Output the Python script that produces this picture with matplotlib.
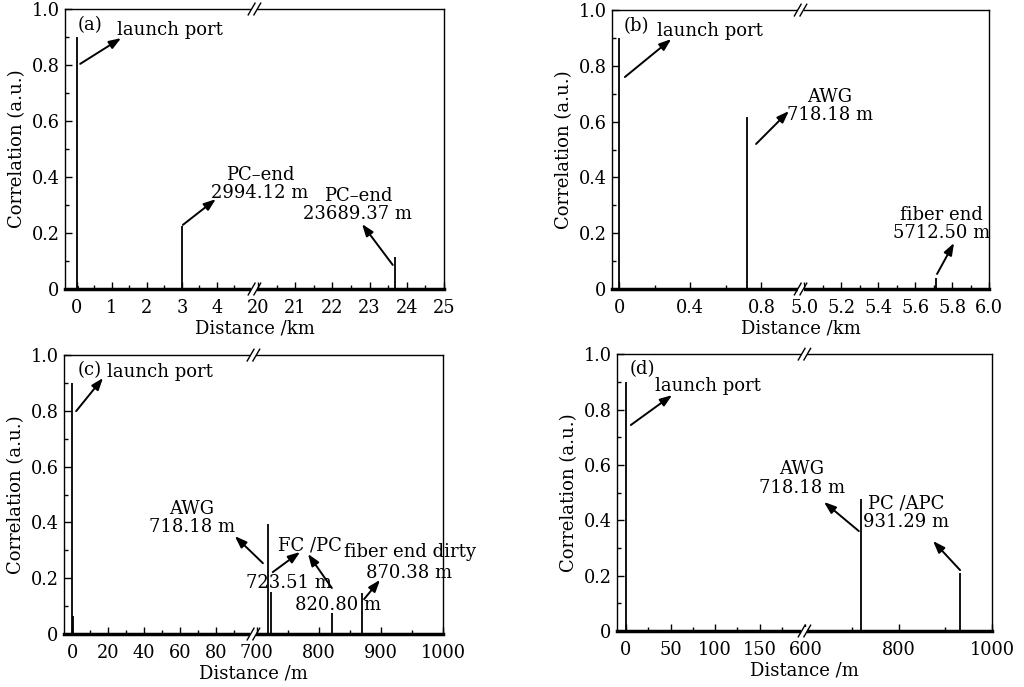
import numpy as np
import matplotlib
matplotlib.use("Agg")
import matplotlib.pyplot as plt
from matplotlib.ticker import FixedLocator, FixedFormatter
from matplotlib.patches import Rectangle

plt.rcParams['font.family'] = ['DejaVu Serif']
plt.rcParams['mathtext.fontset'] = 'dejavuserif'

# ---------------- data ----------------
# (a) distance in km
a_pos = [0.0, 0.03, 2.99412, 23.68937]
a_val = [0.90, 0.012, 0.225, 0.115]
a_major = [0, 1, 2, 3, 4, 20, 21, 22, 23, 24, 25]
a_major_lbl = ["0", "1", "2", "3", "4", "20", "21", "22", "23", "24", "25"]
a_minor = [0.5, 1.5, 2.5, 3.5, 4.5, 20.5, 21.5, 22.5, 23.5, 24.5]

# (b) distance in km
b_pos = [0.0, 0.71818, 5.7125]
b_val = [0.90, 0.615, 0.04]
b_major = [0, 0.4, 0.8, 5.0, 5.2, 5.4, 5.6, 5.8, 6.0]
b_major_lbl = ["0", "0.4", "0.8", "5.0", "5.2", "5.4", "5.6", "5.8", "6.0"]
b_minor = [0.2, 0.6, 5.1, 5.3, 5.5, 5.7, 5.9]

# (c) distance in m
c_pos = [0.0, 0.5, 718.18, 723.51, 820.80, 870.38]
c_val = [0.90, 0.065, 0.395, 0.152, 0.074, 0.146]
c_major = [0, 20, 40, 60, 80, 700, 800, 900, 1000]
c_major_lbl = ["0", "20", "40", "60", "80", "700", "800", "900", "1000"]
c_minor = [10, 30, 50, 70, 90, 750, 850, 950]

# (d) distance in m
d_pos = [0.0, 718.18, 931.29]
d_val = [0.90, 0.476, 0.21]
d_major = [0, 50, 100, 150, 600, 800, 1000]
d_major_lbl = ["0", "50", "100", "150", "600", "800", "1000"]
d_minor = [25, 75, 125, 175, 700, 900]

y_major = [0, 0.2, 0.4, 0.6, 0.8, 1.0]
y_major_lbl = ["0", "0.2", "0.4", "0.6", "0.8", "1.0"]
y_minor = [0.1, 0.3, 0.5, 0.7, 0.9]


def make_scale(a0, a1, b0, b1):
    def fwd(x):
        x = np.asarray(x, dtype=float)
        left = (x - a0) / (a1 - a0) * 0.5
        right = 0.5 + (x - b0) / (b1 - b0) * 0.5
        return np.where(x <= a1, left, np.where(x >= b0, right, 0.5))

    def inv(u):
        u = np.asarray(u, dtype=float)
        return np.where(u <= 0.5, a0 + u / 0.5 * (a1 - a0),
                        b0 + (u - 0.5) / 0.5 * (b1 - b0))
    return fwd, inv


fig = plt.figure(figsize=(10.24, 6.87), dpi=100)
fig.patch.set_facecolor('white')

FS = 13
TFS = 12.8


def setup(rect, lims, pos, val, major, major_lbl, minor, xlabel, tag):
    ax = fig.add_axes(rect)
    a0, a1, b0, b1 = lims
    fwd, inv = make_scale(a0, a1, b0, b1)
    ax.set_xscale('function', functions=(fwd, inv))
    ax.set_xlim(a0, b1)
    ax.set_ylim(0, 1.0)
    ax.vlines(pos, 0, val, colors='black', linewidth=1.3)
    ax.xaxis.set_major_locator(FixedLocator(major))
    ax.xaxis.set_major_formatter(FixedFormatter(major_lbl))
    ax.xaxis.set_minor_locator(FixedLocator(minor))
    ax.yaxis.set_major_locator(FixedLocator(y_major))
    ax.yaxis.set_major_formatter(FixedFormatter(y_major_lbl))
    ax.yaxis.set_minor_locator(FixedLocator(y_minor))
    ax.tick_params(which='both', direction='in', top=False, right=False,
                   labelsize=TFS, width=1)
    ax.tick_params(which='major', length=5)
    ax.tick_params(which='minor', length=3)
    ax.tick_params(axis='x', which='major', pad=7)
    ax.tick_params(axis='y', which='major', pad=4)
    for s in ['top', 'right', 'left']:
        ax.spines[s].set_linewidth(1.0)
    ax.spines['bottom'].set_linewidth(2.5)
    ax.set_xlabel(xlabel, fontsize=FS, labelpad=2)
    ax.set_ylabel("Correlation (a.u.)", fontsize=FS, labelpad=4)
    # axis break marks
    for yb in (0.0, 1.0):
        ax.add_patch(Rectangle((0.492, yb - 0.015), 0.016, 0.03,
                               transform=ax.transAxes, facecolor='white',
                               edgecolor='none', clip_on=False, zorder=5))
        for xc in (0.4925, 0.5075):
            ax.plot([xc - 0.009, xc + 0.009], [yb - 0.021, yb + 0.021],
                    transform=ax.transAxes, color='black', lw=1.0,
                    clip_on=False, zorder=6)
    ax.text(*tag[1], tag[0], transform=ax.transAxes, fontsize=FS,
            ha='left', va='center')
    return ax


def arrow(ax, tail, head):
    ax.annotate("", xy=head, xytext=tail, xycoords='axes fraction',
                textcoords='axes fraction',
                arrowprops=dict(arrowstyle='-|>,head_length=0.55,head_width=0.2',
                                color='black', lw=1.4,
                                mutation_scale=13, shrinkA=0, shrinkB=0))


def label(ax, xy, s, ha='center'):
    ax.text(xy[0], xy[1], s, transform=ax.transAxes, fontsize=FS,
            ha=ha, va='center', linespacing=1.05)


# (a)
ax = setup([0.0635, 0.5793, 0.370, 0.4076], (-0.33, 5.07, 19.9, 25.0),
           a_pos, a_val, a_major, a_major_lbl, a_minor, "Distance /km",
           ("(a)", (0.032, 0.943)))
label(ax, (0.137, 0.925), "launch port", ha='left')
arrow(ax, (0.040, 0.804), (0.148, 0.896))
label(ax, (0.515, 0.375), "PC\u2013end\n2994.12 m")
arrow(ax, (0.311, 0.229), (0.398, 0.321))
label(ax, (0.773, 0.300), "PC\u2013end\n23689.37 m")
arrow(ax, (0.865, 0.086), (0.784, 0.232))

# (b)
ax = setup([0.5977, 0.5793, 0.3682, 0.406], (-0.04, 1.02, 4.98, 6.0),
           b_pos, b_val, b_major, b_major_lbl, b_minor, "Distance /km",
           ("(b)", (0.032, 0.943)))
label(ax, (0.119, 0.925), "launch port", ha='left')
arrow(ax, (0.034, 0.760), (0.157, 0.896))
label(ax, (0.578, 0.656), "AWG\n718.18 m")
arrow(ax, (0.382, 0.520), (0.469, 0.638))
label(ax, (0.873, 0.233), "fiber end\n5712.50 m")
arrow(ax, (0.862, 0.054), (0.907, 0.165))

# (c)
ax = setup([0.0625, 0.0771, 0.370, 0.406], (-4.5, 101.0, 695.0, 1000.0),
           c_pos, c_val, c_major, c_major_lbl, c_minor, "Distance /m",
           ("(c)", (0.037, 0.946)))
label(ax, (0.113, 0.939), "launch port", ha='left')
arrow(ax, (0.032, 0.799), (0.103, 0.918))
label(ax, (0.338, 0.416), "AWG\n718.18 m")
arrow(ax, (0.525, 0.254), (0.451, 0.351))
label(ax, (0.649, 0.319), "FC /PC")
label(ax, (0.594, 0.183), "723.51 m")
arrow(ax, (0.551, 0.222), (0.623, 0.294))
label(ax, (0.723, 0.104), "820.80 m")
arrow(ax, (0.707, 0.165), (0.644, 0.287))
label(ax, (0.913, 0.294), "fiber end dirty")
label(ax, (0.910, 0.219), "870.38 m")
arrow(ax, (0.792, 0.125), (0.834, 0.194))

# (d)
ax = setup([0.6025, 0.0815, 0.3662, 0.403], (-10.0, 200.0, 598.0, 1000.0),
           d_pos, d_val, d_major, d_major_lbl, d_minor, "Distance /m",
           ("(d)", (0.035, 0.946)))
label(ax, (0.101, 0.884), "launch port", ha='left')
arrow(ax, (0.037, 0.744), (0.147, 0.852))
label(ax, (0.493, 0.552), "AWG\n718.18 m")
arrow(ax, (0.645, 0.361), (0.552, 0.466))
label(ax, (0.771, 0.426), "PC /APC\n931.29 m")
arrow(ax, (0.915, 0.220), (0.843, 0.325))

fig.savefig("out.png", dpi=100, facecolor='white')
